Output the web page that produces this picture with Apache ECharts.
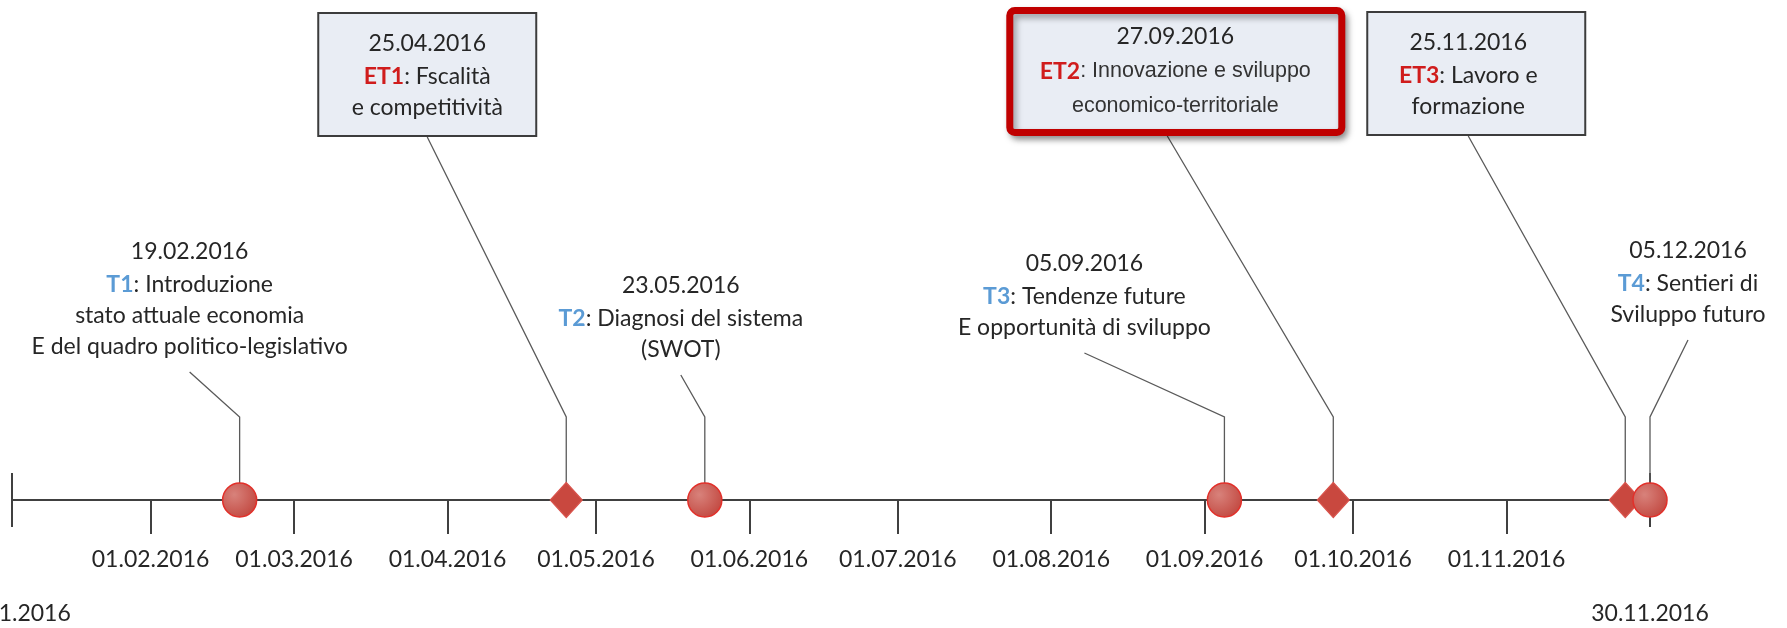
<!DOCTYPE html>
<html lang="it">
<head>
<meta charset="UTF-8">
<title>Calendario incontri 2016</title>
<script src="https://cdn.jsdelivr.net/npm/echarts@6/dist/echarts.min.js"></script>
<style>
    html, body { margin: 0; padding: 0; background: #fff; }
    #main { width: 1787px; height: 628px; }
</style>
</head>
<body>
<div id="main"></div>
<script>
// asse temporale
var axisStart = '2016-01-04';
var axisEnd = '2016-11-30';
var monthTicks = ['2016-02-01', '2016-03-01', '2016-04-01', '2016-05-01', '2016-06-01',
    '2016-07-01', '2016-08-01', '2016-09-01', '2016-10-01', '2016-11-01'];

// eventi (T = tavolo, ET = tavolo esperti)
var eventDates = ['2016-02-19', '2016-04-25', '2016-05-23', '2016-09-05', '2016-09-27', '2016-11-25', '2016-12-05'];
var eventCodes = ['T1', 'ET1', 'T2', 'T3', 'ET2', 'ET3', 'T4'];
var eventTypes = ['T', 'ET', 'T', 'T', 'ET', 'ET', 'T'];
var eventLines = [
    ['Introduzione', 'stato attuale economia', 'E del quadro politico-legislativo'],
    ['Fscalità', 'e competitività'],
    ['Diagnosi del sistema', '(SWOT)'],
    ['Tendenze future', 'E opportunità di sviluppo'],
    ['Innovazione e sviluppo', 'economico-territoriale'],
    ['Lavoro e', 'formazione'],
    ['Sentieri di', 'Sviluppo futuro']
];

// disposizione dei richiami (pixel rispetto al marcatore)
var elbowH = 83;
var callouts = [
    { dx: -50, h: 128 },
    { dx: -139, h: 363, box: { x: -110, w: 220, h: 125 } },
    { dx: -24, h: 125 },
    { dx: -140, h: 147 },
    { dx: -166, h: 364, box: { x: -161, w: 339, h: 129, strong: true }, tx: 8 },
    { dx: -157, h: 364, box: { x: -102, w: 220, h: 125 } },
    { dx: 38, h: 160 }
];

function toTime(s) {
    var p = s.split('-');
    return new Date(+p[0], +p[1] - 1, +p[2]).getTime();
}
function pad(n) { return n < 10 ? '0' + n : '' + n; }
function fmt(t) {
    var d = new Date(t);
    return pad(d.getDate()) + '.' + pad(d.getMonth() + 1) + '.' + d.getFullYear();
}

var tMin = toTime(axisStart);
var tMax = toTime(axisEnd);
var tickValues = monthTicks.map(toTime);

var points = eventDates.map(function (d, i) {
    // T4 cade oltre la fine dell'asse: disegnato sul bordo
    return [Math.min(toTime(d), tMax), 0, i];
});

var textColor = '#262626';
function rs(o) { o.fill = o.color; return o; }
var rich = {
    d: rs({ fontFamily: 'Lato', fontSize: 23, lineHeight: 35, color: textColor }),
    t: rs({ fontFamily: 'Lato', fontSize: 23, lineHeight: 31, fontWeight: 'bold', color: '#5b9bd5' }),
    e: rs({ fontFamily: 'Lato', fontSize: 23, lineHeight: 31, fontWeight: 'bold', color: '#d01c1c' }),
    b: rs({ fontFamily: 'Lato', fontSize: 23, lineHeight: 31, color: textColor }),
    a: rs({ fontFamily: 'Liberation Sans', fontSize: 21.5, lineHeight: 35, color: '#333333' })
};

function calloutText(i) {
    var L = callouts[i];
    var code = eventTypes[i] === 'T' ? 't' : 'e';
    var body = L.box && L.box.strong ? 'a' : 'b';
    var lines = eventLines[i];
    var s = '{d|' + fmt(toTime(eventDates[i])) + '}\n{' + code + '|' + eventCodes[i] + '}{' + body + '|: ' + lines[0] + '}';
    for (var k = 1; k < lines.length; k++) {
        s += '\n{' + body + '|' + lines[k] + '}';
    }
    return s;
}

var myChart = echarts.init(document.getElementById('main'));

var gridBox = { left: 12, right: 137, top: 0, bottom: 128, outerBoundsMode: 'none' };
var axisColor = '#404040';
var labelFont = { fontFamily: 'Lato', fontSize: 23, lineHeight: 26, color: textColor };

var option = {
    animation: false,
    backgroundColor: '#ffffff',
    grid: [
        Object.assign({}, gridBox),
        Object.assign({}, gridBox),
        Object.assign({}, gridBox)
    ],
    xAxis: [{
        gridIndex: 0,
        type: 'value',
        min: tMin,
        max: tMax,
        axisLine: { onZero: false, lineStyle: { color: axisColor, width: 2 } },
        axisTick: { customValues: tickValues, length: 34, lineStyle: { color: axisColor, width: 2 } },
        axisLabel: Object.assign({
            customValues: tickValues,
            margin: 47,
            formatter: function (v) { return fmt(v); }
        }, labelFont),
        splitLine: { show: false }
    }, {
        gridIndex: 1,
        type: 'value',
        min: tMin,
        max: tMax,
        axisLine: { show: false, onZero: false },
        axisTick: { customValues: [tMin, tMax], length: 27, lineStyle: { color: axisColor, width: 2 } },
        axisLabel: Object.assign({
            customValues: [tMin, tMax],
            margin: 101,
            formatter: function (v) { return fmt(v); }
        }, labelFont),
        splitLine: { show: false }
    }, {
        gridIndex: 2,
        type: 'value',
        min: tMin,
        max: tMax,
        axisLine: { show: false, onZero: false },
        axisTick: { customValues: [tMin, tMax], inside: true, length: 27, lineStyle: { color: axisColor, width: 2 } },
        axisLabel: { show: false },
        splitLine: { show: false }
    }],
    yAxis: [0, 1, 2].map(function (g) {
        return { gridIndex: g, type: 'value', min: 0, max: 1, show: false };
    }),
    series: [{
        type: 'custom',
        xAxisIndex: 0,
        yAxisIndex: 0,
        z: 2,
        clip: false,
        data: points,
        renderItem: function (params, api) {
            var i = api.value(2);
            var L = callouts[i];
            var p = api.coord([api.value(0), 0]);
            var ax = p[0] + L.dx;
            var ay = p[1] - L.h;
            var children = [{
                type: 'polyline',
                shape: { points: [[p[0], p[1]], [p[0], p[1] - elbowH], [ax, ay]] },
                style: { stroke: '#5a5a5a', lineWidth: 1.3, fill: null }
            }];
            var tx = ax + (L.tx || 0);
            if (L.box) {
                var b = L.box;
                var sw = b.strong ? 7 : 2;
                children.push({
                    type: 'rect',
                    shape: { x: ax + b.x + sw / 2, y: ay - b.h + sw / 2, width: b.w - sw, height: b.h - sw, r: b.strong ? 5 : 0 },
                    style: b.strong ? {
                        fill: '#e9edf4', stroke: '#c00000', lineWidth: sw,
                        shadowBlur: 6, shadowOffsetX: 3, shadowOffsetY: 4, shadowColor: 'rgba(0,0,0,0.35)'
                    } : { fill: '#e9edf4', stroke: '#3c3c3c', lineWidth: sw }
                });
                children.push({
                    type: 'text',
                    x: tx,
                    y: ay - b.h / 2,
                    style: { text: calloutText(i), rich: rich, align: 'center', verticalAlign: 'middle' }
                });
            } else {
                children.push({
                    type: 'text',
                    x: tx,
                    y: ay - 10,
                    style: { text: calloutText(i), rich: rich, align: 'center', verticalAlign: 'bottom' }
                });
            }
            return { type: 'group', children: children };
        }
    }, {
        type: 'scatter',
        xAxisIndex: 0,
        yAxisIndex: 0,
        z: 3,
        clip: false,
        data: points.map(function (pt, i) {
            var isT = eventTypes[i] === 'T';
            return {
                value: pt,
                symbol: isT ? 'circle' : 'diamond',
                symbolSize: isT ? 34 : [32, 35],
                itemStyle: isT ? {
                    opacity: 1,
                    color: {
                        type: 'radial', x: 0.35, y: 0.35, r: 0.75,
                        colorStops: [{ offset: 0, color: '#d8827b' }, { offset: 1, color: '#c1453d' }]
                    },
                    borderColor: '#e2302a',
                    borderWidth: 1.5
                } : {
                    opacity: 1,
                    color: '#c9483f',
                    borderColor: '#d9534c',
                    borderWidth: 1.2
                }
            };
        })
    }]
};

myChart.setOption(option);
</script>
</body>
</html>
